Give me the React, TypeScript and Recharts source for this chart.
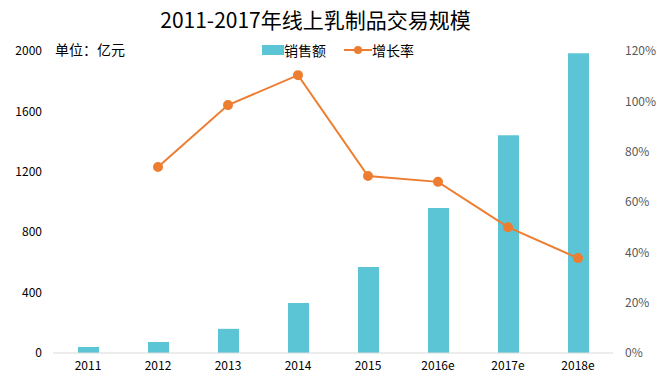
import { ComposedChart, Bar, Line, XAxis, YAxis } from "recharts"

const years = ["2011", "2012", "2013", "2014", "2015", "2016e", "2017e", "2018e"]
const sales = [40, 73, 160, 331, 570, 960, 1442, 1985]
const growth = [null, 73.9, 98.5, 110.4, 70.3, 68, 50, 37.7]
const leftTicks = [0, 400, 800, 1200, 1600, 2000]
const rightTicks = [0, 20, 40, 60, 80, 100, 120]

const font = "'Noto Sans CJK SC', 'Noto Sans', sans-serif"
const barColor = "#5BC5D6"
const lineColor = "#ED7D31"

const data = years.map((year, i) => ({ year, sales: sales[i], growth: growth[i] }))

function LegendBox() {
  return (
    <div
      style={{
        position: "absolute",
        left: 262,
        top: 40,
        display: "flex",
        alignItems: "center",
        fontFamily: font,
        fontSize: 14,
        color: "#000",
      }}
    >
      <span style={{ display: "inline-block", width: 22, height: 10, background: barColor }} />
      <span style={{ marginRight: 18 }}>销售额</span>
      <svg width={28} height={12}>
        <line x1={0} y1={6} x2={28} y2={6} stroke={lineColor} strokeWidth={2} />
        <circle cx={14} cy={6} r={4} fill={lineColor} />
      </svg>
      <span>增长率</span>
    </div>
  )
}

export default function App() {
  return (
    <div style={{ position: "absolute", left: 0, top: 0, width: 671, height: 385, background: "#fff" }}>
      <ComposedChart width={671} height={385} data={data} margin={{ top: 51, right: 0, bottom: 7, left: 0 }}>
        <XAxis
          dataKey="year"
          tickLine={false}
          axisLine={{ stroke: "#d9d9d9" }}
          height={25}
          tick={{ fontSize: 12, fill: "#000", fontFamily: font }}
        />
        <YAxis
          yAxisId="left"
          domain={[0, 2000]}
          ticks={leftTicks}
          width={53}
          axisLine={false}
          tickLine={false}
          tick={{ fontSize: 12, fill: "#000", fontFamily: font, dx: -3 }}
        />
        <YAxis
          yAxisId="right"
          orientation="right"
          domain={[0, 120]}
          ticks={rightTicks}
          width={58}
          axisLine={false}
          tickLine={false}
          tickFormatter={(v) => `${v}%`}
          tick={{ fontSize: 12, fill: "#595959", fontFamily: font, dx: 4 }}
        />
        <Bar yAxisId="left" dataKey="sales" fill={barColor} barSize={21} isAnimationActive={false} />
        <Line
          yAxisId="right"
          dataKey="growth"
          stroke={lineColor}
          strokeWidth={2}
          dot={{ r: 4, fill: lineColor, stroke: lineColor }}
          isAnimationActive={false}
        />
      </ComposedChart>
      <div
        style={{
          position: "absolute",
          left: 0,
          width: 631,
          top: 4,
          textAlign: "center",
          fontFamily: font,
          fontSize: 21,
          color: "#000",
        }}
      >
        2011-2017年线上乳制品交易规模
      </div>
      <div style={{ position: "absolute", left: 55, top: 39, fontFamily: font, fontSize: 14, color: "#000" }}>
        单位：亿元
      </div>
      <LegendBox />
    </div>
  )
}
